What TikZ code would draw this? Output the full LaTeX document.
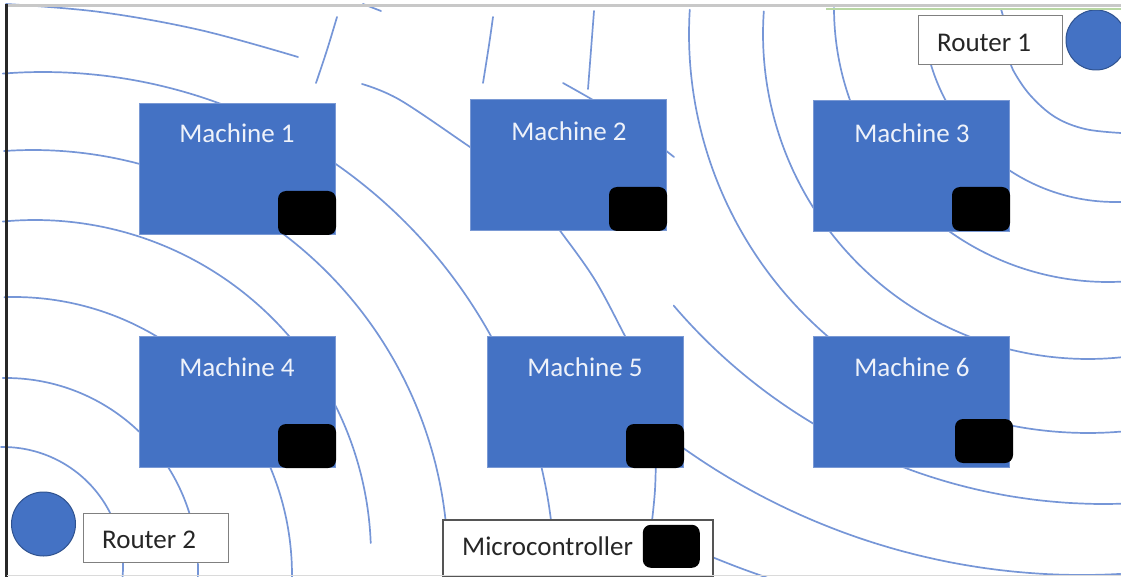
\documentclass[tikz,border=0pt]{standalone}
\usepackage{fontspec}
\setmainfont{Carlito}
\definecolor{office}{RGB}{68,114,196}
\definecolor{officeedge}{RGB}{122,153,212}
\definecolor{wavec}{RGB}{118,150,215}
\definecolor{ringedge}{RGB}{47,82,143}
\definecolor{lightlabel}{RGB}{238,242,250}
\definecolor{darklabel}{RGB}{38,38,38}
\definecolor{boxedge}{RGB}{128,128,128}
\definecolor{mcuedge}{RGB}{85,85,85}
\definecolor{topbar}{RGB}{200,200,200}
\definecolor{greenbar}{RGB}{184,215,163}
\definecolor{sidebar}{RGB}{40,40,40}
\definecolor{basebar}{RGB}{218,218,218}
% circular ring piece: centre x, centre y, radius, from angle, to angle (y grows downwards)
\newcommand\ringarc[5]{\draw[wave] plot[domain=#4:#5, samples=70, smooth, variable=\t]
  ({#1+#3*cos(\t)},{#2+#3*sin(\t)});}
\begin{document}
\begin{tikzpicture}[x=1pt, y=-1pt,
  wave/.style={draw=wavec, line width=1.7pt, line cap=round},
  machine/.style={rectangle, fill=office, draw=officeedge, line width=1.2pt,
    minimum width=196pt, minimum height=131pt, anchor=north west, inner sep=0pt},
  chip/.style={rectangle, fill=black, rounded corners=8pt, minimum width=58pt,
    minimum height=44pt, anchor=south east, inner sep=0pt},
  router/.style={circle, fill=office, draw=ringedge, line width=1pt, inner sep=0pt},
  tag/.style={rectangle, fill=white, draw=boxedge, line width=1.3pt,
    anchor=north west, inner sep=0pt},
  mlabel/.style={anchor=base, inner sep=0pt, text=lightlabel,
    font=\fontsize{27}{32}\selectfont},
  tlabel/.style={anchor=base west, inner sep=0pt, text=darklabel,
    font=\fontsize{27}{32}\selectfont},
]
\useasboundingbox (0,0) rectangle (1121,577);

% ---- signal rings spreading from router 2 (lower left) ----
\ringarc{3}{567}{120}{-91}{6}
\ringarc{6}{570}{192}{-91}{3}
\ringarc{14}{575}{278}{-92}{1}
\ringarc{35}{556}{336}{-95.5}{-2.2}
\ringarc{33}{565}{415}{-94}{-6.1}
\ringarc{43}{584}{512}{-94.5}{-7.3}
\draw[wave] plot[smooth,tension=0.6] coordinates {(6,4) (100,12) (200,30) (298,57)};
\draw[wave] plot[smooth,tension=0.6] coordinates {(362,84) (400,100) (470,147) (490,160)};
\draw[wave] plot[smooth,tension=0.6] coordinates {(656,455) (655,490) (652,521)};
\draw[wave] (363,4) -- (381,11);
\draw[wave] plot[smooth,tension=0.6] coordinates {(563,83) (593,100) (605,108)};
\draw[wave] (660,146) -- (674,157);

% ---- signal rings spreading from router 1 (upper right) ----
\draw[wave] (1001,9) -- (1003,16);
\draw[wave] plot[smooth,tension=0.6] coordinates {(1010,58) (1013,70) (1030,95) (1055,117) (1085,129) (1121,133)};
\ringarc{1115}{10}{192}{88}{166}
\ringarc{1108}{8}{274}{87}{180}
\ringarc{1088}{34}{325}{84}{184}
\ringarc{1088}{34}{399}{85}{183.5}
\draw[wave] plot[smooth,tension=0.6] coordinates {(594,11) (591,50) (588,89)};
\ringarc{1104}{-62}{566}{88}{139.5}
\draw[wave] plot[smooth,tension=0.6] coordinates {(553,222) (561,232) (595,280) (625,336) (630,345)};
\ringarc{1082}{-115}{690}{86.8}{126}
\draw[wave] plot[smooth,tension=0.6] coordinates {(493,17) (489,45) (483,83)};
\draw[wave] plot[smooth,tension=0.6] coordinates {(700,552) (712,557) (740,568) (768,578)};
\draw[wave] plot[smooth,tension=0.6] coordinates {(337,17) (327,50) (316,83)};

% ---- machines with their sensor chips ----
\node[machine] (m1) at (139,103) {};
\node[machine] (m2) at (470,99) {};
\node[machine] (m3) at (813,100) {};
\node[machine] (m4) at (139,336) {};
\node[machine] (m5) at (487,336) {};
\node[machine] (m6) at (813,336) {};

\node[chip] (c1) at (m1.south east) {};
\node[chip] (c2) at (m2.south east) {};
\node[chip] (c3) at ([yshift=1pt]m3.south east) {};
\node[chip] (c4) at (m4.south east) {};
\node[chip] (c5) at (m5.south east) {};
\node[chip] (c6) at ([xshift=3pt,yshift=5pt]m6.south east) {};

\node[mlabel] (l1) at (237,143) {Machine 1};
\node[mlabel] (l2) at (569,141) {Machine 2};
\node[mlabel] (l3) at (912,143) {Machine 3};
\node[mlabel] (l4) at (237,376) {Machine 4};
\node[mlabel] (l5) at (585,376) {Machine 5};
\node[mlabel] (l6) at (912,376) {Machine 6};

% ---- routers ----
\node[router, minimum size=60pt] (r1) at (1096,40) {};
\node[router, minimum size=64pt] (r2) at (43.5,524) {};
\node[tag, minimum width=144pt, minimum height=49pt] (t1) at (918,15) {};
\node[tag, minimum width=145pt, minimum height=49pt] (t2) at (83,513) {};
\node[tlabel] (tl1) at (937,52) {Router 1};
\node[tlabel] (tl2) at (102,548) {Router 2};

% ---- legend: microcontroller ----
\node[tag, draw=mcuedge, line width=2.2pt, minimum width=270pt, minimum height=57pt] (mcu) at (442,519) {};
\node[chip, minimum width=57pt, minimum height=43pt] (mcuchip) at (700,568) {};
\node[tlabel] (mcul) at (462,555) {Microcontroller};

% ---- window frame ----
\draw[topbar, line width=3.5pt] (5,5.5) -- (1121,5.5);
\draw[greenbar, line width=2pt] (826,9) -- (1121,9);
\draw[sidebar, line width=2.5pt] (6.5,4) -- (6.5,577);
\draw[basebar, line width=1.5pt] (7,575.5) -- (1121,575.5);
\end{tikzpicture}
\end{document}
